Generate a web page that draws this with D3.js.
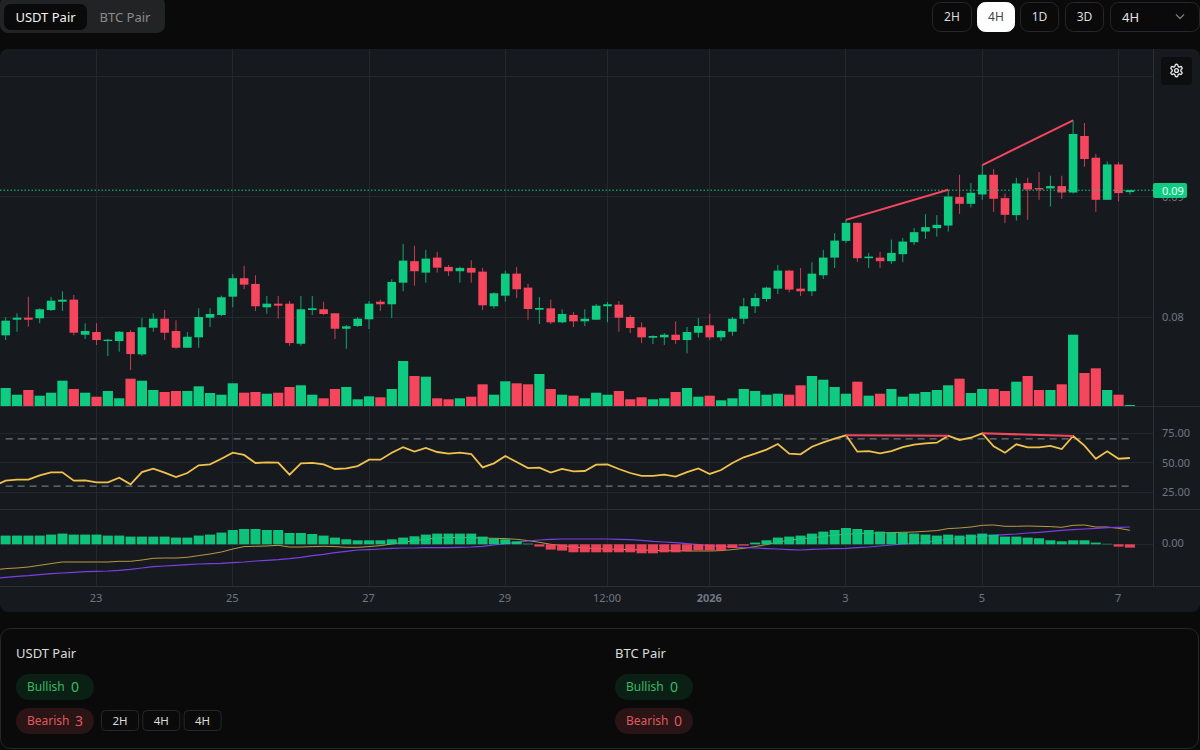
<!DOCTYPE html>
<html>
<head>
<meta charset="utf-8">
<title>Divergence chart</title>
<script src="https://cdn.jsdelivr.net/npm/d3@7"></script>
<style>
  html, body { margin: 0; padding: 0; background: #0a0a0a; overflow: hidden; }
  svg { display: block; }
  text { font-family: "Noto Sans", sans-serif; }
  .tick line, .domain { display: none; }
</style>
</head>
<body>
<div id="chart"></div>
<script>
// candles, 4H, one entry per bar
var opens = [0.078475,0.079775,0.079942,0.079892,0.080583,0.081275,0.081442,0.078525,0.078750,0.078000,
  0.078000,0.078750,0.076892,0.079108,0.079858,0.078833,0.077442,0.078308,0.079942,0.080167,
  0.081692,0.083225,0.082750,0.080808,0.081108,0.081108,0.077775,0.080583,0.080642,0.080308,
  0.079025,0.079250,0.079808,0.081275,0.081058,0.082858,0.084642,0.083692,0.084942,0.084167,
  0.083808,0.084083,0.083775,0.080892,0.081775,0.083608,0.082442,0.080608,0.080725,0.079558,
  0.080167,0.079642,0.079775,0.080892,0.081025,0.080000,0.079142,0.078275,0.078308,0.078525,
  0.078083,0.078692,0.079308,0.078308,0.078775,0.079858,0.080892,0.081500,0.082358,0.083858,
  0.082358,0.082142,0.083475,0.084942,0.086333,0.087833,0.084892,0.084942,0.084642,0.085225,
  0.086225,0.087108,0.087392,0.087608,0.089975,0.089417,0.090192,0.091833,0.089892,0.088475,
  0.091142,0.090725,0.090692,0.090892,0.090358,0.095058,0.093250,0.089750,0.092692,0.090392];
var closes = [0.079692,0.079942,0.079775,0.080642,0.081358,0.081442,0.078692,0.078833,0.078083,0.078108,
  0.078775,0.076917,0.079142,0.079858,0.078692,0.077442,0.078358,0.080000,0.080250,0.081642,
  0.083225,0.082692,0.080892,0.081108,0.080942,0.077833,0.080642,0.080725,0.080250,0.079025,
  0.079225,0.079858,0.081108,0.081058,0.082917,0.084692,0.083808,0.084858,0.084108,0.083808,
  0.084083,0.083692,0.080975,0.081975,0.083608,0.082308,0.080667,0.080750,0.079558,0.080250,
  0.079642,0.079858,0.080942,0.081058,0.079942,0.079083,0.078308,0.078417,0.078525,0.078083,
  0.078750,0.079250,0.078308,0.078833,0.079858,0.080892,0.081583,0.082442,0.083858,0.082275,
  0.082142,0.083608,0.084942,0.086358,0.087833,0.084892,0.085025,0.084642,0.085333,0.086275,
  0.087058,0.087475,0.087667,0.090025,0.089417,0.090333,0.091833,0.089833,0.088500,0.091108,
  0.090608,0.090608,0.090892,0.090358,0.095225,0.093142,0.089750,0.092692,0.090308,0.090558];
var highs = [0.079975,0.080308,0.081692,0.080725,0.081667,0.082142,0.081833,0.079475,0.079475,0.078192,
  0.078833,0.078917,0.079917,0.080308,0.080583,0.079725,0.078750,0.080725,0.080725,0.081775,
  0.083558,0.084250,0.083475,0.081750,0.081750,0.081333,0.081750,0.081750,0.081275,0.080308,
  0.079333,0.080000,0.081333,0.081442,0.083142,0.086083,0.085917,0.085583,0.085417,0.084333,
  0.084192,0.084725,0.084083,0.082058,0.083858,0.084167,0.082750,0.081667,0.081442,0.080642,
  0.080417,0.080642,0.081083,0.081250,0.081333,0.080167,0.079558,0.078475,0.078667,0.079642,
  0.079167,0.079917,0.080250,0.078917,0.080000,0.081583,0.081975,0.082525,0.084333,0.083917,
  0.084083,0.084558,0.085583,0.086975,0.088083,0.087858,0.085333,0.085417,0.086442,0.086583,
  0.087392,0.088558,0.088475,0.090583,0.091833,0.091142,0.092642,0.092308,0.090275,0.091583,
  0.091583,0.092058,0.091750,0.091750,0.096358,0.096142,0.093558,0.092942,0.092892,0.090558];
var lows = [0.078083,0.078775,0.079192,0.079475,0.080500,0.080500,0.078475,0.078167,0.077667,0.076750,
  0.077108,0.075583,0.076750,0.078775,0.078083,0.077358,0.077442,0.077442,0.079167,0.080083,
  0.080808,0.082308,0.080500,0.080275,0.079858,0.077608,0.077608,0.080167,0.080167,0.078167,
  0.077358,0.079167,0.079000,0.080500,0.079917,0.082142,0.082608,0.082858,0.083692,0.083417,
  0.082858,0.082858,0.080583,0.080692,0.081275,0.081583,0.079775,0.079417,0.079417,0.079475,
  0.079167,0.079250,0.079750,0.079558,0.078775,0.078667,0.077833,0.077750,0.077667,0.077750,
  0.076975,0.078308,0.078083,0.078000,0.078442,0.079417,0.080333,0.081275,0.081917,0.082058,
  0.081750,0.081750,0.083167,0.084083,0.086167,0.084583,0.084083,0.084083,0.084417,0.084558,
  0.086000,0.086500,0.086692,0.087108,0.088583,0.089108,0.089750,0.088750,0.087808,0.088025,
  0.088083,0.089750,0.089192,0.089833,0.090275,0.092500,0.088750,0.089750,0.089608,0.090192];
// volume has no axis in the picture, so these are in relative units
var volumes = [18,11.3,16,10.3,13.3,25.3,17,13.3,9.3,15,
  7.7,27.3,25.3,16,14,15,15,19.7,13,11.3,
  22.7,13.3,14,12.3,13.3,19,20.7,11.3,7.7,17,
  19,6.7,9.7,8.7,17,45,30,29.3,7.7,6.7,
  7.7,9.3,21.7,11.3,24.7,22.7,21.7,32,17,11.3,
  10.3,7.7,13.3,11.3,15,6.7,8.7,6.7,7.7,14,
  18,9.3,10.3,5.7,7.7,17,15,11.3,12.3,11.3,
  20.7,30,26.3,19,12.3,24.3,10.3,12.3,17,9.3,
  12.3,14,16,20.7,27.3,13,17,17,15,24.3,
  30,16,16,21.7,71.3,33,37.7,16,11.3,1];
var rsi = [34.6,35.5,35.5,39.1,41.7,41.7,34.6,34.9,33.2,33.2,
  37.1,31.5,41.9,44.8,41.4,37.7,41.1,47.6,48.4,53.2,
  58.3,56.4,49.6,50.1,49.9,39.7,49.3,49.6,48.4,44.5,
  45,47,52.4,52.4,58.3,62.9,59.2,62.3,58.9,57.5,
  58.3,57.2,45.9,49.3,55.5,50.4,45.3,45.6,41.4,44.5,
  42.5,42.8,48.2,48.4,44.5,41.1,38.6,38.6,39.7,38,
  41.9,45,40.3,43.6,49.6,54.4,57.5,60.9,65.7,57.5,
  56.9,63.4,67.1,70.2,73,59.2,59.7,57.8,59.7,63.1,
  65.1,66.2,66.8,72.7,69.1,71,74.7,63.7,58.3,65.4,
  62.9,62.9,64,61.4,72.5,64.3,53.2,59.5,53.2,53.8];
// macd values in units of 0.00001
var macdLine = [-24.3,-23.7,-22.7,-21,-19.3,-17.7,-17.7,-17.7,-17.7,-17.7,
  -17,-17,-15.7,-14,-13.7,-13.7,-13,-11.3,-9.7,-7.7,
  -4.7,-2.3,-2,-1.7,-1,-2.7,-2.7,-2.3,-2,-2.3,
  -3,-3,-2.3,-1.3,0.3,2,3.7,5,6.3,6.7,
  6.7,6.7,6.3,6,5.7,5,3.7,2,0,-1.3,
  -2.7,-3.7,-4.3,-4.7,-5,-5.3,-5.7,-6,-6.3,-6.3,
  -6.7,-6.7,-6.7,-6.3,-5.3,-4,-2.3,-0.3,2.3,4,
  5.7,6.3,8,9,10,10.7,11.3,11.3,11.7,12,
  12.3,13,13.7,15.7,16.3,17.3,19,19.3,18,18,
  18.3,18,17.7,17,19,19.3,17.3,17.3,16,14];
var signalLine = [-33,-32,-31.3,-30.3,-29.3,-28.7,-28,-27.3,-27,-26.7,
  -26,-25,-23.7,-22.3,-21.7,-21,-20.3,-19.7,-19.3,-19,
  -18.3,-17.7,-16.7,-16,-15.3,-14.3,-13,-11.3,-10,-8.3,
  -7,-5.7,-5.3,-4.7,-4,-3.7,-3.7,-3.3,-3.3,-3.3,
  -3,-2.7,-2,-0.7,0.7,2,3.3,4.3,5,5.3,
  5.3,5.3,5.3,5.3,5,4.7,4,3,2.3,1.7,
  0.7,-0.3,-1.3,-2,-2.7,-3.3,-3.7,-4.3,-4.7,-5.3,
  -5.7,-5,-4.7,-4.3,-4,-3.3,-2.7,-1.7,-0.7,0.3,
  1,2,3.7,5,6,7,8,9,9.7,10.3,
  11.3,12,13,14,14.7,15.3,16,16.7,17,17.3];
var macdHist = [8.7,8.7,8.7,8.7,9.7,10.7,9.7,9.7,9.7,8.7,
  8.7,7.7,7.7,7.7,7.7,6.7,6.7,8.7,9.7,11.7,
  14.3,15.3,15.3,14.3,14.3,11.3,11.3,10.3,8.7,6.7,
  5,4,4,4,5,6.7,8,9.7,10.7,10.7,
  10.7,10.7,7.7,5.7,5,3,0.7,-2.3,-5.3,-6.3,
  -8,-8,-8,-8,-8,-8,-9,-9,-8,-8,
  -7,-6,-6,-6,-3.7,-1.3,1.7,4,6.7,7.7,
  8.7,10.7,12.7,14.3,16.3,15.3,14.3,12.7,11.7,11.7,
  10.7,9.7,8.7,9.7,8.7,9.7,10.7,9.7,7.7,7.7,
  6.7,6,4,3,4,4,1.7,0.5,-2.3,-3.3];

// the bar just off the left edge, only its line segments show
var rsiBefore = 30.1;
var macdBefore = -25.7;
var signalBefore = -34;

// bars that carry a date label on the time axis
var tickBars = [8,20,32,44,53,62,74,86,98];
var tickLabels = ["23","25","27","29","12:00","2026","3","5","7"];
var priceTicks = [0.08,0.09,0.10];
var rsiTicks = [25,50,75];
var macdTicks = [0];
var rsiBands = [70,30];
var lastPrice = 0.09055;

// [fromBar, toBar] for the bearish divergence lines
var divergences = [[74,83],[86,94]];

var upColor = "#0ecb81";
var downColor = "#f6465d";
var gridColor = "#23272e";
var axisColor = "#6f7681";
var axisRightX = 1153;

var svg = d3.select("#chart").append("svg").attr("width",1200).attr("height",750);

// ---- chart panel background
svg.append("rect").attr("x",0).attr("y",49).attr("width",1200).attr("height",563).attr("rx",8).attr("fill","#161a1f");

// ---- scales
var x = d3.scaleLinear().domain([0,99]).range([5.65,5.65+99*11.356]);
var yPrice = d3.scaleLinear().domain([0.08,0.09]).range([317,196.8]);
var yVol = d3.scaleLinear().domain([0,100]).range([406,306]);
var yRsi = d3.scaleLinear().domain([25,75]).range([492,433]);
var yMacd = d3.scaleLinear().domain([0,10]).range([544.3,534.3]);
var bars = d3.range(opens.length);

// ---- grid, drawn under everything
var grid = svg.append("g").attr("stroke",gridColor).attr("stroke-width",1).attr("shape-rendering","crispEdges");
grid.selectAll(".v").data(tickBars).join("line")
  .attr("x1",d=>Math.floor(x(d))+0.5).attr("x2",d=>Math.floor(x(d))+0.5).attr("y1",49).attr("y2",587);
function hGrid(values, scale) {
  grid.selectAll(null).data(values).join("line")
    .attr("x1",0).attr("x2",axisRightX).attr("y1",d=>Math.floor(scale(d))+0.5).attr("y2",d=>Math.floor(scale(d))+0.5);
}
hGrid(priceTicks,yPrice);
hGrid(rsiTicks,yRsi);
hGrid(macdTicks,yMacd);

// pane separators and axis borders
var seps = svg.append("g").attr("stroke","#2a2e35").attr("shape-rendering","crispEdges");
[406.5,509.5,586.5].forEach(function(y){
  seps.append("line").attr("x1",0).attr("x2",1200).attr("y1",y).attr("y2",y);
});
seps.append("line").attr("x1",axisRightX+0.5).attr("x2",axisRightX+0.5).attr("y1",49).attr("y2",587);

// ---- volume
svg.append("g").selectAll("rect").data(bars).join("rect")
  .attr("x",d=>x(d)-5.1).attr("width",10.2)
  .attr("y",d=>yVol(volumes[d])).attr("height",d=>yVol(0)-yVol(volumes[d]))
  .attr("fill",d=>closes[d]>=opens[d]?upColor:downColor);

// ---- candles, wick first then body
var candles = svg.append("g");
candles.selectAll("line").data(bars).join("line")
  .attr("x1",d=>x(d)).attr("x2",d=>x(d))
  .attr("y1",d=>yPrice(highs[d])).attr("y2",d=>yPrice(lows[d]))
  .attr("stroke",d=>closes[d]>=opens[d]?upColor:downColor)
  .attr("stroke-opacity",0.8);
candles.selectAll("rect").data(bars).join("rect")
  .attr("x",d=>x(d)-4.3).attr("width",8.6)
  .attr("y",d=>yPrice(Math.max(opens[d],closes[d])))
  .attr("height",d=>Math.max(1,Math.abs(yPrice(opens[d])-yPrice(closes[d]))))
  .attr("fill",d=>closes[d]>=opens[d]?upColor:downColor);

// last price line
svg.append("line").attr("x1",0).attr("x2",axisRightX)
  .attr("y1",yPrice(lastPrice)).attr("y2",yPrice(lastPrice))
  .attr("stroke",upColor).attr("stroke-dasharray","1.5 2");

// price divergence
svg.append("g").selectAll("line").data(divergences).join("line")
  .attr("x1",d=>x(d[0])).attr("y1",d=>yPrice(highs[d[0]]))
  .attr("x2",d=>x(d[1])).attr("y2",d=>yPrice(highs[d[1]]))
  .attr("stroke",downColor).attr("stroke-width",2);

// ---- rsi pane, i-1 so the off-screen bar lands left of the edge
svg.append("g").selectAll("line").data(rsiBands).join("line")
  .attr("x1",x(0)).attr("x2",x(99)).attr("y1",d=>yRsi(d)).attr("y2",d=>yRsi(d))
  .attr("stroke","#878d96").attr("stroke-dasharray","7 5");
var rsiLine = d3.line().x((d,i)=>x(i-1)).y(d=>yRsi(d));
svg.append("path").attr("d",rsiLine([rsiBefore].concat(rsi))).attr("fill","none").attr("stroke","#f0c14b").attr("stroke-width",1.8);
svg.append("g").selectAll("line").data(divergences).join("line")
  .attr("x1",d=>x(d[0])).attr("y1",d=>yRsi(rsi[d[0]]))
  .attr("x2",d=>x(d[1])).attr("y2",d=>yRsi(rsi[d[1]]))
  .attr("stroke",downColor).attr("stroke-width",2);

// ---- macd pane, the histogram sits on top of both lines
var macdPath = d3.line().x((d,i)=>x(i-1)).y(d=>yMacd(d));
svg.append("path").attr("d",macdPath([macdBefore].concat(macdLine))).attr("fill","none").attr("stroke","#f0c14b").attr("stroke-opacity",0.75);
svg.append("path").attr("d",macdPath([signalBefore].concat(signalLine))).attr("fill","none").attr("stroke","#7b3fe4").attr("stroke-width",1.2);
svg.append("g").selectAll("rect").data(bars).join("rect")
  .attr("x",d=>x(d)-5).attr("width",10)
  .attr("y",d=>yMacd(Math.max(macdHist[d],0)))
  .attr("height",d=>Math.abs(yMacd(macdHist[d])-yMacd(0)))
  .attr("fill",d=>macdHist[d]>=0?upColor:downColor)
  .attr("fill-opacity",0.95);

// ---- axes
function styleAxis(g) {
  g.selectAll("text").attr("fill",axisColor).style("font-size","11px").style("font-family","'Noto Sans', sans-serif");
}
svg.append("g").attr("transform","translate("+axisRightX+",0)")
  .call(d3.axisRight(yPrice).tickValues(priceTicks).tickFormat(d3.format(".2f")).tickSize(0).tickPadding(9)).call(styleAxis);
svg.append("g").attr("transform","translate("+axisRightX+",0)")
  .call(d3.axisRight(yRsi).tickValues(rsiTicks).tickFormat(d3.format(".2f")).tickSize(0).tickPadding(9)).call(styleAxis);
svg.append("g").attr("transform","translate("+axisRightX+",-1)")
  .call(d3.axisRight(yMacd).tickValues(macdTicks).tickFormat(d3.format(".2f")).tickSize(0).tickPadding(9)).call(styleAxis);
svg.append("g").attr("transform","translate(-1,587)")
  .call(d3.axisBottom(x).tickValues(tickBars).tickFormat((d,i)=>tickLabels[i]).tickSize(0).tickPadding(7))
  .call(styleAxis)
  .selectAll("text").attr("font-weight",(d,i)=>tickLabels[i]=="2026"?700:400);

// last price tag sits on top of the 0.09 label
svg.append("rect").attr("x",1153).attr("y",183).attr("width",34).attr("height",15).attr("rx",2).attr("fill",upColor);
svg.append("text").attr("x",1173).attr("y",191).attr("dy","0.35em").attr("text-anchor","middle")
  .attr("fill","#e8fff5").attr("font-size",11).text(d3.format(".2f")(lastPrice));

// ---- settings button
var gear = svg.append("g");
gear.append("rect").attr("x",1161).attr("y",57).attr("width",31).attr("height",28).attr("rx",4).attr("fill","#0d0e10");
var gearIcon = gear.append("g").attr("transform","translate(1169,63) scale(0.625)")
  .attr("fill","none").attr("stroke","#e8e8e8").attr("stroke-width",2.2);
gearIcon.append("path").attr("d","M12.22 2h-.44a2 2 0 0 0-2 2v.18a2 2 0 0 1-1 1.73l-.43.25a2 2 0 0 1-2 0l-.15-.08a2 2 0 0 0-2.73.73l-.22.38a2 2 0 0 0 .73 2.73l.15.1a2 2 0 0 1 1 1.72v.51a2 2 0 0 1-1 1.74l-.15.09a2 2 0 0 0-.73 2.73l.22.38a2 2 0 0 0 2.73.73l.15-.08a2 2 0 0 1 2 0l.43.25a2 2 0 0 1 1 1.73V20a2 2 0 0 0 2 2h.44a2 2 0 0 0 2-2v-.18a2 2 0 0 1 1-1.73l.43-.25a2 2 0 0 1 2 0l.15.08a2 2 0 0 0 2.73-.73l.22-.39a2 2 0 0 0-.73-2.73l-.15-.08a2 2 0 0 1-1-1.74v-.5a2 2 0 0 1 1-1.74l.15-.09a2 2 0 0 0 .73-2.73l-.22-.38a2 2 0 0 0-2.73-.73l-.15.08a2 2 0 0 1-2 0l-.43-.25a2 2 0 0 1-1-1.73V4a2 2 0 0 0-2-2z");
gearIcon.append("circle").attr("cx",12).attr("cy",12).attr("r",3);

// ---- page controls around the chart
function button(x0,y0,w,h,label,opts) {
  opts = opts || {};
  svg.append("rect").attr("x",x0+0.5).attr("y",y0+0.5).attr("width",w-1).attr("height",h-1).attr("rx",opts.rx||6)
    .attr("fill",opts.fill||"#0a0a0a").attr("stroke",opts.stroke||"#25272a");
  svg.append("text").attr("x",x0+w/2).attr("y",y0+h/2).attr("dy","0.35em").attr("text-anchor","middle")
    .attr("fill",opts.color||"#dcdcdc").attr("font-size",opts.size||12).text(label);
}

// pair tabs
svg.append("rect").attr("x",0).attr("y",-4).attr("width",165).attr("height",37).attr("rx",8).attr("fill","#222325");
button(4,4,83,26,"USDT Pair",{fill:"#0a0a0a",stroke:"#0a0a0a",color:"#f2f2f2",size:13});
svg.append("text").attr("x",125).attr("y",17).attr("dy","0.35em").attr("text-anchor","middle")
  .attr("fill","#8a8a8a").attr("font-size",13).text("BTC Pair");

// timeframe buttons
button(932,2,40,30,"2H",{rx:8});
button(977,2,38,30,"4H",{rx:8,fill:"#ffffff",stroke:"#ffffff",color:"#444"});
button(1020,2,39,30,"1D",{rx:8});
button(1065,2,39,30,"3D",{rx:8});
svg.append("rect").attr("x",1110.5).attr("y",2.5).attr("width",89).attr("height",29).attr("rx",8)
  .attr("fill","#0a0a0a").attr("stroke","#25272a");
svg.append("text").attr("x",1122).attr("y",17).attr("dy","0.35em").attr("fill","#e2e2e2").attr("font-size",13).text("4H");
svg.append("path").attr("d","M1176 14.5l4 4 4-4").attr("fill","none").attr("stroke","#77797c").attr("stroke-width",1.3);

// ---- divergence summary card
svg.append("rect").attr("x",0.5).attr("y",628.5).attr("width",1198).attr("height",120).attr("rx",10)
  .attr("fill","#0a0a0a").attr("stroke","#25272a");
function pairSummary(x0,name,bullish,bearish,tags) {
  svg.append("text").attr("x",x0).attr("y",653).attr("dy","0.35em").attr("fill","#dcdcdc").attr("font-size",13).text(name);
  svg.append("rect").attr("x",x0).attr("y",674).attr("width",78).attr("height",26).attr("rx",13).attr("fill","#0b2015");
  svg.append("text").attr("x",x0+11).attr("y",687).attr("dy","0.35em").attr("fill","#38b865").attr("font-size",12).text("Bullish");
  svg.append("text").attr("x",x0+55).attr("y",687).attr("dy","0.35em").attr("fill","#38b865").attr("font-size",14).text(bullish);
  svg.append("rect").attr("x",x0).attr("y",708).attr("width",78).attr("height",26).attr("rx",13).attr("fill","#2a1416");
  svg.append("text").attr("x",x0+11).attr("y",721).attr("dy","0.35em").attr("fill","#df5a5c").attr("font-size",12).text("Bearish");
  svg.append("text").attr("x",x0+59).attr("y",721).attr("dy","0.35em").attr("fill","#df5a5c").attr("font-size",14).text(bearish);
  tags.forEach(function(t,i){
    button(x0+85+i*41.3,710,38,21,t,{rx:4,size:11.5,stroke:"#25272a"});
  });
}
pairSummary(16,"USDT Pair",0,3,["2H","4H","4H"]);
pairSummary(615,"BTC Pair",0,0,[]);
</script>
</body>
</html>
